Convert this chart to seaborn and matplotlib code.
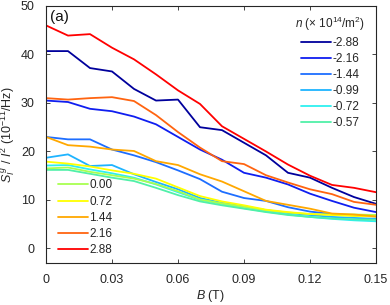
import numpy as np
import pandas as pd
import matplotlib
matplotlib.use("Agg")
import matplotlib.pyplot as plt
import seaborn as sns

B = [0.00, 0.01, 0.02, 0.03, 0.04, 0.05, 0.06, 0.07, 0.08, 0.09, 0.10, 0.11, 0.12, 0.13, 0.14, 0.15]

n_labels = ["-2.88", "-2.16", "-1.44", "-0.99", "-0.72", "-0.57",
            "0.00", "0.72", "1.44", "2.16", "2.88"]

s_m288 = [40.7, 40.7, 37.2, 36.5, 32.9, 30.5, 30.7, 25.0, 24.4, 21.8, 19.2, 15.6, 14.6, 12.5, 10.6, 9.2]
s_m216 = [30.5, 30.2, 28.8, 28.3, 27.2, 25.6, 23.0, 20.4, 18.3, 15.6, 14.6, 13.2, 11.3, 9.8, 8.4, 7.5]
s_m144 = [23.0, 22.5, 22.5, 20.4, 19.2, 17.8, 16.1, 14.3, 11.7, 10.4, 9.8, 8.5, 7.6, 7.1, 6.8, 6.6]
s_m099 = [18.7, 19.4, 17.0, 17.2, 15.3, 13.7, 12.2, 10.4, 9.4, 8.7, 7.9, 7.3, 6.9, 6.5, 6.3, 6.1]
s_m072 = [17.1, 17.2, 16.3, 15.5, 14.6, 13.2, 11.6, 10.0, 9.2, 8.3, 7.6, 7.0, 6.5, 6.1, 5.8, 5.6]
s_m057 = [16.2, 16.2, 15.4, 14.6, 13.9, 12.5, 11.0, 9.7, 8.9, 8.2, 7.5, 6.9, 6.5, 6.2, 6.0, 5.9]
s_p000 = [16.5, 16.7, 15.8, 15.1, 14.4, 13.3, 11.8, 10.1, 9.3, 8.6, 7.9, 7.4, 7.1, 7.0, 7.0, 6.9]
s_p072 = [17.9, 17.5, 16.9, 16.1, 15.4, 14.4, 12.6, 10.8, 9.7, 8.9, 8.0, 7.5, 7.1, 6.9, 6.7, 6.6]
s_p144 = [23.0, 21.3, 21.0, 20.4, 20.1, 18.0, 17.2, 15.3, 13.8, 11.8, 9.8, 9.0, 8.2, 7.2, 7.0, 6.6]
s_p216 = [31.0, 30.7, 31.0, 31.2, 30.4, 27.5, 24.0, 20.8, 18.0, 17.4, 15.1, 13.6, 12.2, 11.2, 9.6, 9.0]
s_p288 = [46.0, 43.9, 44.2, 41.4, 39.0, 35.9, 32.6, 29.8, 25.2, 22.6, 20.0, 17.3, 15.0, 13.1, 12.5, 11.6]

series = [s_m288, s_m216, s_m144, s_m099, s_m072, s_m057,
          s_p000, s_p072, s_p144, s_p216, s_p288]

colors = ["#00009C", "#0F1EF0", "#1E6EFF", "#1EB4FF", "#2EF0F0", "#50F0A8",
          "#A8FF50", "#FFFF00", "#FFA800", "#FF6410", "#FF0000"]

rows = []
for lab, ys in zip(n_labels, series):
    for b, y in zip(B, ys):
        rows.append({"B": b, "S": y, "n": lab})
df = pd.DataFrame(rows)

sns.set_theme(style="white")
plt.rcParams['font.family'] = ['Liberation Sans', 'DejaVu Sans']
plt.rcParams['mathtext.fontset'] = 'custom'
plt.rcParams['mathtext.rm'] = 'Liberation Sans'
plt.rcParams['mathtext.it'] = 'Liberation Sans:italic'

fig = plt.figure(figsize=(3.9, 3.05), dpi=100)
ax = fig.add_axes([46/390, 1-263/305, 330/390, 257/305])

palette = dict(zip(n_labels, colors))
sns.lineplot(data=df, x="B", y="S", hue="n", hue_order=n_labels, palette=palette,
             ax=ax, legend=False, linewidth=1.3, estimator=None)

ax.set_xlim(0, 0.15)
ax.set_ylim(-3, 50)
ax.set_xticks([0, 0.03, 0.06, 0.09, 0.12, 0.15])
ax.set_xticklabels(["0", "0.03", "0.06", "0.09", "0.12", "0.15"])
ax.set_yticks([0, 10, 20, 30, 40, 50])
ax.tick_params(direction='in', length=3, width=0.6, colors='#262626', labelsize=9,
               top=True, right=True, bottom=True, left=True, pad=8)
for sp in ax.spines.values():
    sp.set_color('#262626')
    sp.set_linewidth(0.8)

ax.set_xlabel(r"$B$ (T)", fontsize=9, color='#262626', labelpad=1)
ax.set_ylabel(r"$S_I^{\,g}$ / $I^2$ (10$^{-11}$/Hz)", fontsize=9, color='#262626', labelpad=2)
ax.text(0.012, 0.985, "(a)", transform=ax.transAxes, fontsize=11, va='top', ha='left', color='#111111')

lines = ax.get_lines()
h1 = lines[:6]
h2 = lines[6:11]
leg1 = ax.legend(h1, n_labels[:6], loc='upper left', bbox_to_anchor=(0.755, 0.965),
                 frameon=False, fontsize=8.5, handlelength=2.6, handletextpad=0.1,
                 labelspacing=0.33, borderpad=0, borderaxespad=0,
                 title=r"$n$ ($\times$ 10$^{14}$/m$^2$)", title_fontsize=8.5)
leg1._legend_box.sep = 3
ax.add_artist(leg1)
leg2 = ax.legend(h2, n_labels[6:], loc='upper left', bbox_to_anchor=(0.035, 0.325),
                 frameon=False, fontsize=8.5, handlelength=2.6, handletextpad=0.1,
                 labelspacing=0.36, borderpad=0, borderaxespad=0)

fig.savefig("out.png", dpi=100)
